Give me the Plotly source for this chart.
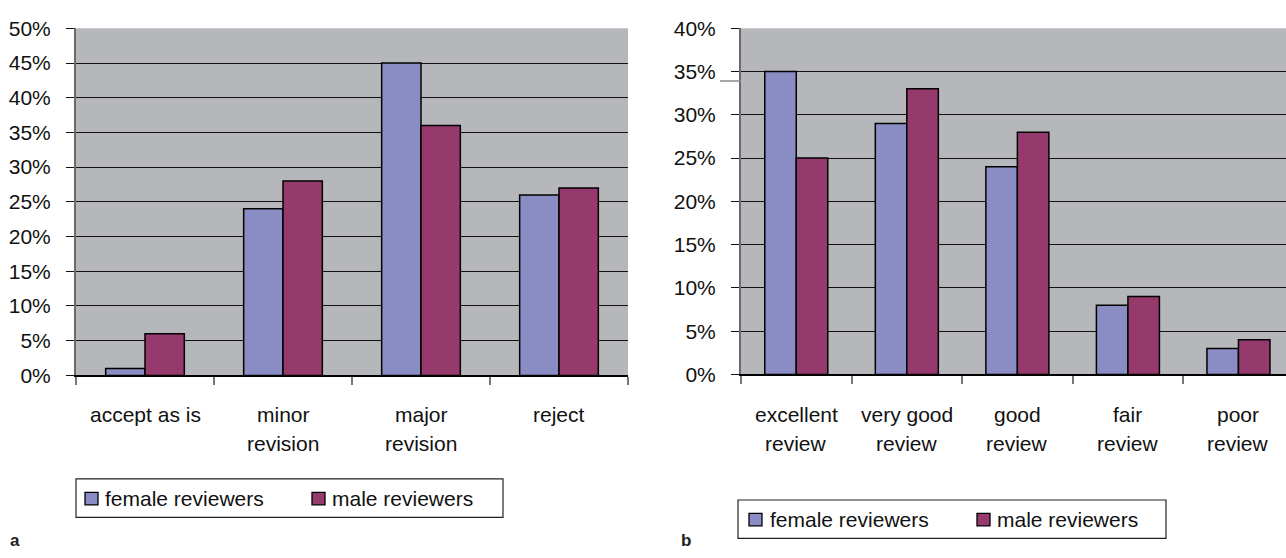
import plotly.graph_objects as go

# Panel a: recommendation given
rec_categories = ["accept as is", "minor<br>revision", "major<br>revision", "reject"]
rec_female = [1, 24, 45, 26]
rec_male = [6, 28, 36, 27]

# Panel b: quality of the review
qual_categories = ["excellent<br>review", "very good<br>review", "good<br>review", "fair<br>review", "poor<br>review"]
qual_female = [35, 29, 24, 8, 3]
qual_male = [25, 33, 28, 9, 4]

series_names = ["female reviewers", "male reviewers"]
FEMALE = "#8a8dc4"
MALE = "#963a6d"
PLOT_BG = "#b6b7bb"
FONT = "Liberation Sans, Arial, sans-serif"
FS = 21

W, H = 1286, 558


def px(x):
    return x / W


def py(y):
    return 1 - y / H


fig = go.Figure()

for xa, ya, cats, fem, mal in [
    ("x", "y", rec_categories, rec_female, rec_male),
    ("x2", "y2", qual_categories, qual_female, qual_male),
]:
    idx = list(range(len(cats)))
    fig.add_trace(go.Bar(x=idx, y=fem, name=series_names[0], xaxis=xa, yaxis=ya,
                         marker=dict(color=FEMALE, line=dict(color="#000000", width=1.5)),
                         showlegend=False))
    fig.add_trace(go.Bar(x=idx, y=mal, name=series_names[1], xaxis=xa, yaxis=ya,
                         marker=dict(color=MALE, line=dict(color="#000000", width=1.5)),
                         showlegend=False))

common_x = dict(
    type="linear", showgrid=False, zeroline=False, showticklabels=False,
    ticks="outside", ticklen=8, tickcolor="#777777", tickwidth=1.5,
    showline=True, linecolor="#000000", linewidth=1.5, dtick=1, tick0=-0.5,
)
common_y = dict(
    showgrid=True, gridcolor="#111111", gridwidth=1.3, zeroline=False,
    ticks="outside", ticklen=8, tickcolor="#111111", tickwidth=1.3,
    showline=True, linecolor="#6a6a6a", linewidth=2,
    dtick=5, ticksuffix="%", ticklabelstandoff=11,
    tickfont=dict(family=FONT, size=FS, color="#111111"),
)

fig.update_layout(
    width=W, height=H,
    margin=dict(l=0, r=0, t=0, b=0),
    paper_bgcolor="white", plot_bgcolor=PLOT_BG,
    barmode="group", bargap=0.43, bargroupgap=0,
    xaxis=dict(domain=[px(76), px(628)], range=[-0.5, 3.5], anchor="y", **common_x),
    yaxis=dict(domain=[py(379), py(17)], range=[0, 50], anchor="x", **common_y),
    xaxis2=dict(domain=[px(741), 1], range=[-0.5, 4.43], anchor="y2", **common_x),
    yaxis2=dict(domain=[py(378), py(17)], range=[0, 40], anchor="x2", **common_y),
    font=dict(family=FONT, size=FS, color="#111111"),
)

annotations = []
shapes = []

# Category labels, one annotation per text line
for xa, cats in [("x", rec_categories), ("x2", qual_categories)]:
    for i, c in enumerate(cats):
        for j, line in enumerate(c.split("<br>")):
            annotations.append(dict(
                x=i, y=py(420 + 30 * j), xref=xa, yref="paper",
                text=line, showarrow=False, xanchor="center", yanchor="middle",
                font=dict(family=FONT, size=FS, color="#111111"),
            ))

# Stray grey stub next to the 35% label on panel b
shapes.append(dict(type="line", xref="paper", yref="y2",
                   x0=px(720), x1=px(741), y0=33.9, y1=33.9,
                   line=dict(color="#8a8a8a", width=1.5)))


def legend_box(x0, y0, x1, y1, sw_x, text_x, sw2_x, text2_x):
    cy = (y0 + y1) / 2
    shapes.append(dict(type="rect", xref="paper", yref="paper",
                       x0=px(x0), x1=px(x1), y0=py(y1), y1=py(y0),
                       line=dict(color="#222222", width=1.2), fillcolor="white"))
    for sx, tx, col, name in [(sw_x, text_x, FEMALE, series_names[0]),
                              (sw2_x, text2_x, MALE, series_names[1])]:
        shapes.append(dict(type="rect", xref="paper", yref="paper",
                           x0=px(sx), x1=px(sx + 13), y0=py(cy + 7), y1=py(cy - 6),
                           line=dict(color="#000000", width=1.3), fillcolor=col))
        annotations.append(dict(x=px(tx), y=py(cy), xref="paper", yref="paper",
                                text=name, showarrow=False, xanchor="left", yanchor="middle",
                                font=dict(family=FONT, size=FS, color="#111111")))


legend_box(76, 487, 503, 527, 85, 103, 312, 330)
legend_box(738, 509, 1166, 549, 749, 768, 977, 995)

# Panel letters
for x, letter in [(8, "a"), (679, "b")]:
    annotations.append(dict(x=px(x), y=py(551), xref="paper", yref="paper",
                            text="<b>" + letter + "</b>", showarrow=False,
                            xanchor="left", yanchor="middle",
                            font=dict(family=FONT, size=17, color="#222222")))

fig.update_layout(annotations=annotations, shapes=shapes)

fig.write_html("out.html")
